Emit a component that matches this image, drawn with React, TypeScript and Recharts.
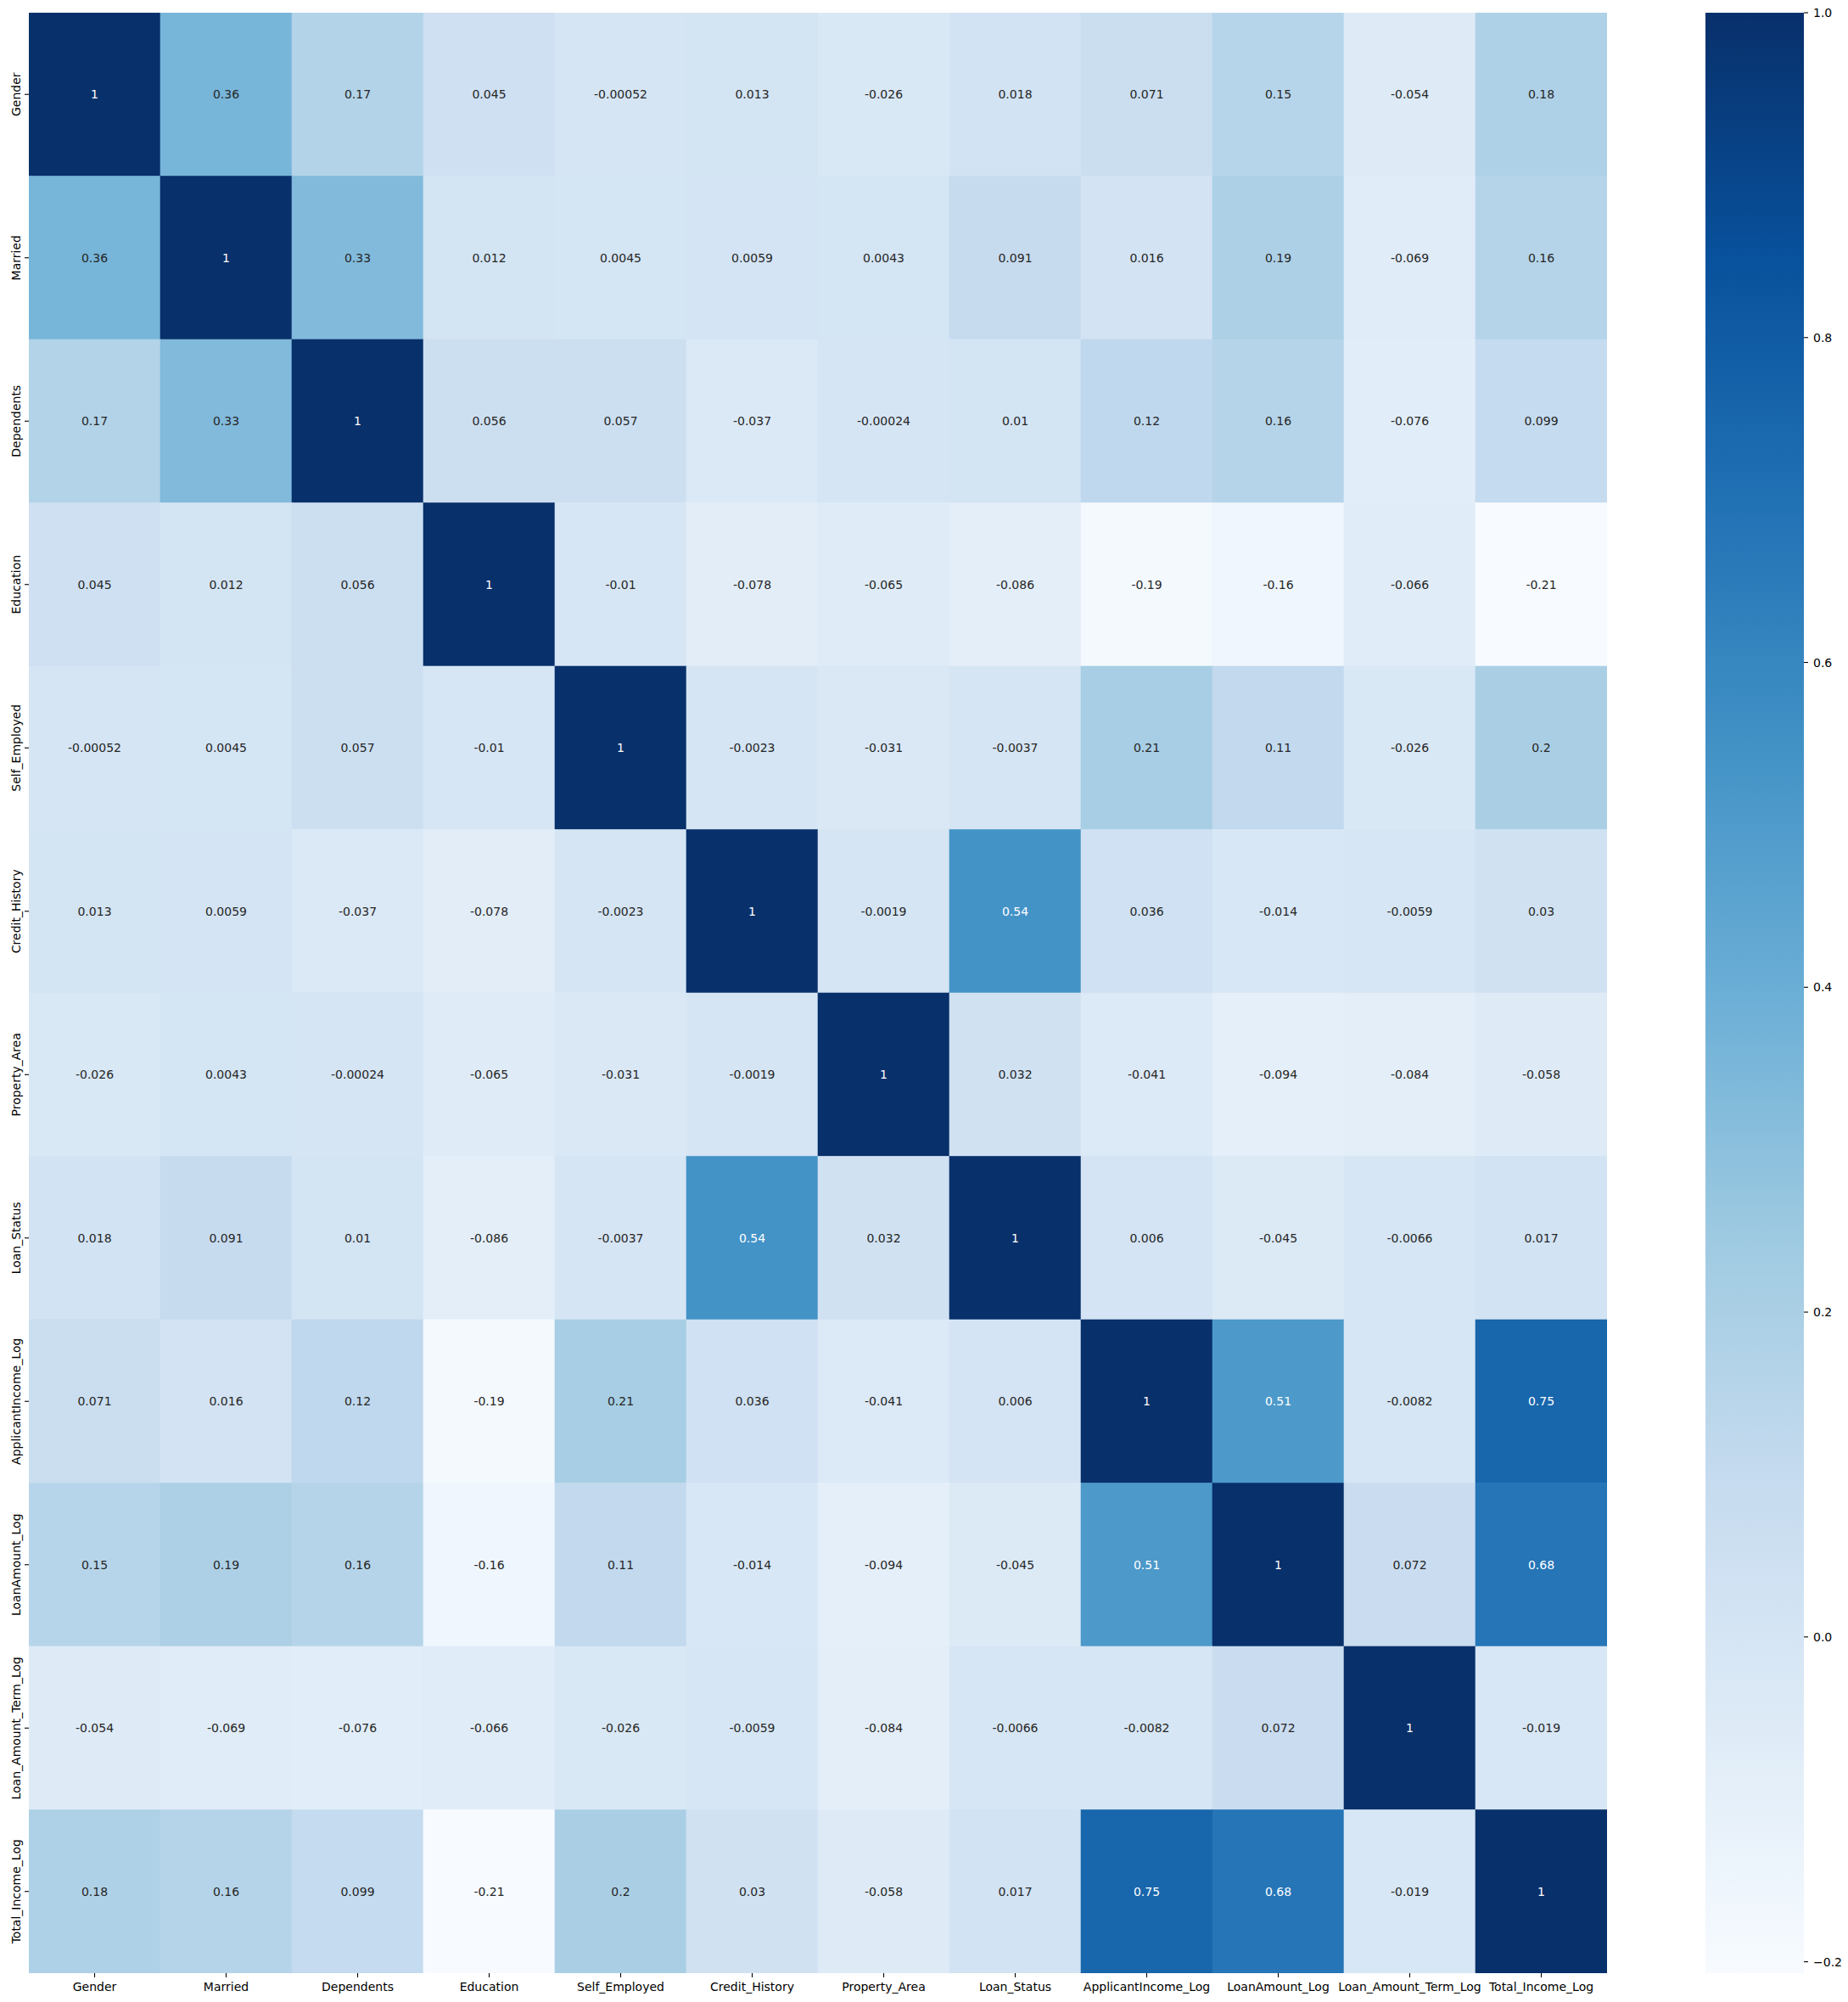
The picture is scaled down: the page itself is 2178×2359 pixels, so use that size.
import { ScatterChart, Scatter, BarChart, Bar, XAxis, YAxis } from "recharts";

// variable names (row / column order)
const LABELS = [
  "Gender",
  "Married",
  "Dependents",
  "Education",
  "Self_Employed",
  "Credit_History",
  "Property_Area",
  "Loan_Status",
  "ApplicantIncome_Log",
  "LoanAmount_Log",
  "Loan_Amount_Term_Log",
  "Total_Income_Log",
];

// correlation rows
const rowGender = [1, 0.36, 0.17, 0.045, -0.00052, 0.013, -0.026, 0.018, 0.071, 0.15, -0.054, 0.18];
const rowMarried = [0.36, 1, 0.33, 0.012, 0.0045, 0.0059, 0.0043, 0.091, 0.016, 0.19, -0.069, 0.16];
const rowDependents = [0.17, 0.33, 1, 0.056, 0.057, -0.037, -0.00024, 0.01, 0.12, 0.16, -0.076, 0.099];
const rowEducation = [0.045, 0.012, 0.056, 1, -0.01, -0.078, -0.065, -0.086, -0.19, -0.16, -0.066, -0.207];
const rowSelfEmployed = [-0.00052, 0.0045, 0.057, -0.01, 1, -0.0023, -0.031, -0.0037, 0.21, 0.11, -0.026, 0.2];
const rowCreditHistory = [0.013, 0.0059, -0.037, -0.078, -0.0023, 1, -0.0019, 0.54, 0.036, -0.014, -0.0059, 0.03];
const rowPropertyArea = [-0.026, 0.0043, -0.00024, -0.065, -0.031, -0.0019, 1, 0.032, -0.041, -0.094, -0.084, -0.058];
const rowLoanStatus = [0.018, 0.091, 0.01, -0.086, -0.0037, 0.54, 0.032, 1, 0.006, -0.045, -0.0066, 0.017];
const rowApplicantIncome = [0.071, 0.016, 0.12, -0.19, 0.21, 0.036, -0.041, 0.006, 1, 0.51, -0.0082, 0.75];
const rowLoanAmount = [0.15, 0.19, 0.16, -0.16, 0.11, -0.014, -0.094, -0.045, 0.51, 1, 0.072, 0.68];
const rowLoanTerm = [-0.054, -0.069, -0.076, -0.066, -0.026, -0.0059, -0.084, -0.0066, -0.0082, 0.072, 1, -0.019];
const rowTotalIncome = [0.18, 0.16, 0.099, -0.207, 0.2, 0.03, -0.058, 0.017, 0.75, 0.68, -0.019, 1];

const MATRIX = [
  rowGender,
  rowMarried,
  rowDependents,
  rowEducation,
  rowSelfEmployed,
  rowCreditHistory,
  rowPropertyArea,
  rowLoanStatus,
  rowApplicantIncome,
  rowLoanAmount,
  rowLoanTerm,
  rowTotalIncome,
];

const CBAR_TICKS = [-0.2, 0, 0.2, 0.4, 0.6, 0.8, 1.0];

// matplotlib "Blues"
const BLUES = ["#f7fbff", "#deebf7", "#c6dbef", "#9ecae1", "#6baed6", "#4292c6", "#2171b5", "#08519c", "#08306b"];

const FONT = "DejaVu Sans";
const N = LABELS.length;
const PLOT_LEFT = 34;
const PLOT_TOP = 15;
const PLOT_RIGHT = 1894;
const PLOT_BOTTOM = 2325;
const CELL_W = (PLOT_RIGHT - PLOT_LEFT) / N;
const CELL_H = (PLOT_BOTTOM - PLOT_TOP) / N;

const allValues = MATRIX.flat();
const VMIN = Math.min(...allValues);
const VMAX = Math.max(...allValues);

const hexToRgb = (h: string) => [1, 3, 5].map((i) => parseInt(h.slice(i, i + 2), 16));

function bluesColor(v: number) {
  const t = Math.max(0, Math.min(1, (v - VMIN) / (VMAX - VMIN)));
  const pos = t * (BLUES.length - 1);
  const i = Math.min(BLUES.length - 2, Math.floor(pos));
  const f = pos - i;
  const a = hexToRgb(BLUES[i]);
  const b = hexToRgb(BLUES[i + 1]);
  return a.map((c, k) => Math.round(c + (b[k] - c) * f));
}

function textColor(rgb: number[]) {
  const lin = rgb.map((c) => {
    const s = c / 255;
    return s <= 0.03928 ? s / 12.92 : Math.pow((s + 0.055) / 1.055, 2.4);
  });
  const lum = 0.2126 * lin[0] + 0.7152 * lin[1] + 0.0722 * lin[2];
  return lum > 0.408 ? "#262626" : "#ffffff";
}

const fmt = (v: number) => String(Number(v.toPrecision(2)));

const cells = MATRIX.flatMap((row, r) =>
  row.map((v, c) => ({ x: c + 0.5, y: r + 0.5, v }))
);

const centers = LABELS.map((_, i) => i + 0.5);

function CellShape(props: any) {
  const { cx, cy, payload } = props;
  if (cx == null || cy == null) return null;
  const rgb = bluesColor(payload.v);
  const fill = `rgb(${rgb[0]},${rgb[1]},${rgb[2]})`;
  return (
    <g>
      <rect
        x={cx - CELL_W / 2}
        y={cy - CELL_H / 2}
        width={CELL_W}
        height={CELL_H}
        fill={fill}
        stroke={fill}
        strokeWidth={0.6}
      />
      <text
        x={cx}
        y={cy}
        textAnchor="middle"
        dominantBaseline="central"
        fontFamily={FONT}
        fontSize={14}
        fill={textColor(rgb)}
      >
        {fmt(payload.v)}
      </text>
    </g>
  );
}

function XTick(props: any) {
  const { x, payload } = props;
  const label = LABELS[Math.floor(payload.value)];
  return (
    <g>
      <line x1={x} x2={x} y1={PLOT_BOTTOM} y2={PLOT_BOTTOM + 5} stroke="#000" strokeWidth={1.1} />
      <text x={x} y={PLOT_BOTTOM + 21} textAnchor="middle" fontFamily={FONT} fontSize={14} fill="#000">
        {label}
      </text>
    </g>
  );
}

function YTick(props: any) {
  const { y, payload } = props;
  const label = LABELS[Math.floor(payload.value)];
  return (
    <g>
      <line x1={PLOT_LEFT - 5} x2={PLOT_LEFT} y1={y} y2={y} stroke="#000" strokeWidth={1.1} />
      <text
        transform={`translate(${PLOT_LEFT - 10.5},${y}) rotate(-90)`}
        textAnchor="middle"
        fontFamily={FONT}
        fontSize={14}
        fill="#000"
      >
        {label}
      </text>
    </g>
  );
}

const CB_LEFT = 2010;
const CB_W = 116;

function CbTick(props: any) {
  const { y, payload } = props;
  const label = Number(payload.value).toFixed(1).replace("-", "\u2212");
  const x0 = CB_W;
  return (
    <g>
      <line x1={x0} x2={x0 + 5} y1={y} y2={y} stroke="#000" strokeWidth={1.1} />
      <text x={x0 + 11} y={y} dominantBaseline="central" fontFamily={FONT} fontSize={14} fill="#000">
        {label}
      </text>
    </g>
  );
}

const cbData = [{ name: "cb", range: [VMIN, VMAX] }];

export default function App() {
  return (
    <div style={{ position: "absolute", left: 0, top: 0, width: 2178, height: 2359, background: "#fff" }}>
      <svg width={0} height={0} style={{ position: "absolute" }}>
        <defs>
          <linearGradient id="bluesGrad" x1="0" y1="1" x2="0" y2="0">
            {BLUES.map((c, i) => (
              <stop key={c} offset={`${(i / (BLUES.length - 1)) * 100}%`} stopColor={c} />
            ))}
          </linearGradient>
        </defs>
      </svg>

      <div style={{ position: "absolute", left: 0, top: 0 }}>
        <ScatterChart
          width={PLOT_RIGHT + 6}
          height={2359}
          margin={{ top: PLOT_TOP, right: 6, bottom: 0, left: 0 }}
        >
          <XAxis
            type="number"
            dataKey="x"
            domain={[0, N]}
            ticks={centers}
            interval={0}
            height={2359 - PLOT_BOTTOM}
            axisLine={false}
            tickLine={false}
            tick={<XTick />}
            allowDataOverflow
          />
          <YAxis
            type="number"
            dataKey="y"
            domain={[0, N]}
            reversed
            ticks={centers}
            interval={0}
            width={PLOT_LEFT}
            axisLine={false}
            tickLine={false}
            tick={<YTick />}
            allowDataOverflow
          />
          <Scatter data={cells} shape={<CellShape />} isAnimationActive={false} />
        </ScatterChart>
      </div>

      <div style={{ position: "absolute", left: CB_LEFT, top: 0 }}>
        <BarChart
          width={168}
          height={2359}
          data={cbData}
          margin={{ top: PLOT_TOP, right: 0, bottom: 2359 - PLOT_BOTTOM, left: 0 }}
          barCategoryGap={0}
        >
          <XAxis dataKey="name" hide />
          <YAxis
            orientation="right"
            type="number"
            domain={[VMIN, VMAX]}
            ticks={CBAR_TICKS}
            interval={0}
            width={168 - CB_W}
            axisLine={false}
            tickLine={false}
            tick={<CbTick />}
            allowDataOverflow
          />
          <Bar dataKey="range" fill="url(#bluesGrad)" isAnimationActive={false} />
        </BarChart>
      </div>
    </div>
  );
}
